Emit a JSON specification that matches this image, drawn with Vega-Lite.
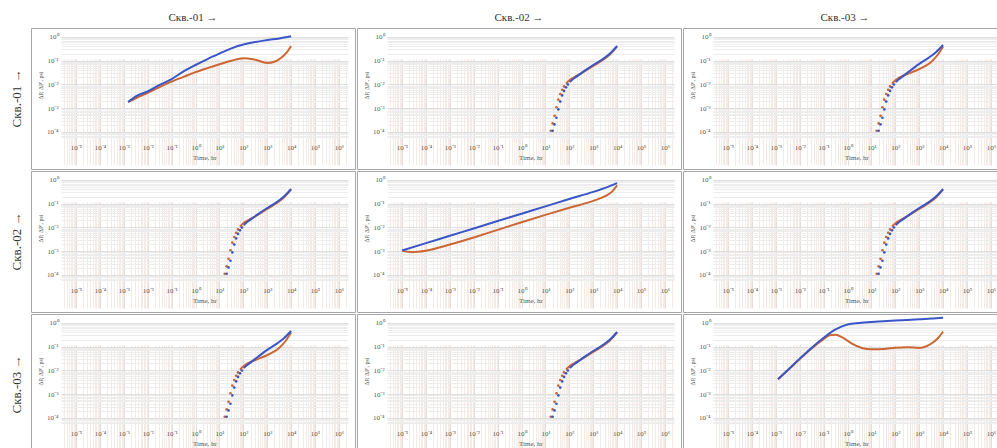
{
  "$schema": "https://vega.github.io/schema/vega-lite/v6.json",
  "padding": {"left": 10, "top": 12, "right": 0, "bottom": 0},
  "background": "white",
  "data": {"values": [
    {"r":"Скв.-01 →","c":"Скв.-01 →","s":"ΔP'","t":0.001514,"v":0.00182},
    {"r":"Скв.-01 →","c":"Скв.-01 →","s":"ΔP'","t":0.003162,"v":0.00263},
    {"r":"Скв.-01 →","c":"Скв.-01 →","s":"ΔP'","t":0.01,"v":0.004467},
    {"r":"Скв.-01 →","c":"Скв.-01 →","s":"ΔP'","t":0.03162,"v":0.007762},
    {"r":"Скв.-01 →","c":"Скв.-01 →","s":"ΔP'","t":0.1,"v":0.01318},
    {"r":"Скв.-01 →","c":"Скв.-01 →","s":"ΔP'","t":0.3162,"v":0.02089},
    {"r":"Скв.-01 →","c":"Скв.-01 →","s":"ΔP'","t":1,"v":0.03311},
    {"r":"Скв.-01 →","c":"Скв.-01 →","s":"ΔP'","t":3.162,"v":0.04898},
    {"r":"Скв.-01 →","c":"Скв.-01 →","s":"ΔP'","t":10,"v":0.07079},
    {"r":"Скв.-01 →","c":"Скв.-01 →","s":"ΔP'","t":31.62,"v":0.1},
    {"r":"Скв.-01 →","c":"Скв.-01 →","s":"ΔP'","t":100,"v":0.1288},
    {"r":"Скв.-01 →","c":"Скв.-01 →","s":"ΔP'","t":316.2,"v":0.1096},
    {"r":"Скв.-01 →","c":"Скв.-01 →","s":"ΔP'","t":1000,"v":0.08128},
    {"r":"Скв.-01 →","c":"Скв.-01 →","s":"ΔP'","t":1995,"v":0.0912},
    {"r":"Скв.-01 →","c":"Скв.-01 →","s":"ΔP'","t":3981,"v":0.138},
    {"r":"Скв.-01 →","c":"Скв.-01 →","s":"ΔP'","t":6310,"v":0.2138},
    {"r":"Скв.-01 →","c":"Скв.-01 →","s":"ΔP'","t":10000,"v":0.4169},

    {"r":"Скв.-01 →","c":"Скв.-02 →","s":"ΔP'","t":16.6,"v":0.0001122},
    {"r":"Скв.-01 →","c":"Скв.-02 →","s":"ΔP'","t":19.95,"v":0.0002291},
    {"r":"Скв.-01 →","c":"Скв.-02 →","s":"ΔP'","t":23.99,"v":0.0004786},
    {"r":"Скв.-01 →","c":"Скв.-02 →","s":"ΔP'","t":28.84,"v":0.001096},
    {"r":"Скв.-01 →","c":"Скв.-02 →","s":"ΔP'","t":34.67,"v":0.002291},
    {"r":"Скв.-01 →","c":"Скв.-02 →","s":"ΔP'","t":41.69,"v":0.003981},
    {"r":"Скв.-01 →","c":"Скв.-02 →","s":"ΔP'","t":50.12,"v":0.006026},
    {"r":"Скв.-01 →","c":"Скв.-02 →","s":"ΔP'","t":60.26,"v":0.008318},
    {"r":"Скв.-01 →","c":"Скв.-02 →","s":"ΔP'","t":72.44,"v":0.01072},
    {"r":"Скв.-01 →","c":"Скв.-02 →","s":"ΔP'","t":87.1,"v":0.01318},
    {"r":"Скв.-01 →","c":"Скв.-02 →","s":"ΔP'","t":104.7,"v":0.01549},
    {"r":"Скв.-01 →","c":"Скв.-02 →","s":"ΔP'","t":125.9,"v":0.01778},
    {"r":"Скв.-01 →","c":"Скв.-02 →","s":"ΔP'","t":199.5,"v":0.02291},
    {"r":"Скв.-01 →","c":"Скв.-02 →","s":"ΔP'","t":398.1,"v":0.03388},
    {"r":"Скв.-01 →","c":"Скв.-02 →","s":"ΔP'","t":1000,"v":0.06026},
    {"r":"Скв.-01 →","c":"Скв.-02 →","s":"ΔP'","t":2512,"v":0.1072},
    {"r":"Скв.-01 →","c":"Скв.-02 →","s":"ΔP'","t":5012,"v":0.182},
    {"r":"Скв.-01 →","c":"Скв.-02 →","s":"ΔP'","t":10000,"v":0.3981},

    {"r":"Скв.-01 →","c":"Скв.-03 →","s":"ΔP'","t":16.6,"v":0.0001122},
    {"r":"Скв.-01 →","c":"Скв.-03 →","s":"ΔP'","t":19.95,"v":0.0002291},
    {"r":"Скв.-01 →","c":"Скв.-03 →","s":"ΔP'","t":23.99,"v":0.0004786},
    {"r":"Скв.-01 →","c":"Скв.-03 →","s":"ΔP'","t":28.84,"v":0.001096},
    {"r":"Скв.-01 →","c":"Скв.-03 →","s":"ΔP'","t":34.67,"v":0.002291},
    {"r":"Скв.-01 →","c":"Скв.-03 →","s":"ΔP'","t":41.69,"v":0.003981},
    {"r":"Скв.-01 →","c":"Скв.-03 →","s":"ΔP'","t":50.12,"v":0.006026},
    {"r":"Скв.-01 →","c":"Скв.-03 →","s":"ΔP'","t":60.26,"v":0.008318},
    {"r":"Скв.-01 →","c":"Скв.-03 →","s":"ΔP'","t":72.44,"v":0.01072},
    {"r":"Скв.-01 →","c":"Скв.-03 →","s":"ΔP'","t":87.1,"v":0.01318},
    {"r":"Скв.-01 →","c":"Скв.-03 →","s":"ΔP'","t":104.7,"v":0.01549},
    {"r":"Скв.-01 →","c":"Скв.-03 →","s":"ΔP'","t":125.9,"v":0.01778},
    {"r":"Скв.-01 →","c":"Скв.-03 →","s":"ΔP'","t":199.5,"v":0.02291},
    {"r":"Скв.-01 →","c":"Скв.-03 →","s":"ΔP'","t":398.1,"v":0.0302},
    {"r":"Скв.-01 →","c":"Скв.-03 →","s":"ΔP'","t":794.3,"v":0.03981},
    {"r":"Скв.-01 →","c":"Скв.-03 →","s":"ΔP'","t":1585,"v":0.05623},
    {"r":"Скв.-01 →","c":"Скв.-03 →","s":"ΔP'","t":3162,"v":0.08913},
    {"r":"Скв.-01 →","c":"Скв.-03 →","s":"ΔP'","t":5623,"v":0.166},
    {"r":"Скв.-01 →","c":"Скв.-03 →","s":"ΔP'","t":10000,"v":0.3981},

    {"r":"Скв.-02 →","c":"Скв.-01 →","s":"ΔP'","t":16.6,"v":0.0001122},
    {"r":"Скв.-02 →","c":"Скв.-01 →","s":"ΔP'","t":19.95,"v":0.0002291},
    {"r":"Скв.-02 →","c":"Скв.-01 →","s":"ΔP'","t":23.99,"v":0.0004786},
    {"r":"Скв.-02 →","c":"Скв.-01 →","s":"ΔP'","t":28.84,"v":0.001096},
    {"r":"Скв.-02 →","c":"Скв.-01 →","s":"ΔP'","t":34.67,"v":0.002291},
    {"r":"Скв.-02 →","c":"Скв.-01 →","s":"ΔP'","t":41.69,"v":0.003981},
    {"r":"Скв.-02 →","c":"Скв.-01 →","s":"ΔP'","t":50.12,"v":0.006026},
    {"r":"Скв.-02 →","c":"Скв.-01 →","s":"ΔP'","t":60.26,"v":0.008318},
    {"r":"Скв.-02 →","c":"Скв.-01 →","s":"ΔP'","t":72.44,"v":0.01072},
    {"r":"Скв.-02 →","c":"Скв.-01 →","s":"ΔP'","t":87.1,"v":0.01318},
    {"r":"Скв.-02 →","c":"Скв.-01 →","s":"ΔP'","t":104.7,"v":0.01549},
    {"r":"Скв.-02 →","c":"Скв.-01 →","s":"ΔP'","t":125.9,"v":0.01778},
    {"r":"Скв.-02 →","c":"Скв.-01 →","s":"ΔP'","t":199.5,"v":0.02291},
    {"r":"Скв.-02 →","c":"Скв.-01 →","s":"ΔP'","t":398.1,"v":0.03388},
    {"r":"Скв.-02 →","c":"Скв.-01 →","s":"ΔP'","t":1000,"v":0.06026},
    {"r":"Скв.-02 →","c":"Скв.-01 →","s":"ΔP'","t":2512,"v":0.1072},
    {"r":"Скв.-02 →","c":"Скв.-01 →","s":"ΔP'","t":5012,"v":0.182},
    {"r":"Скв.-02 →","c":"Скв.-01 →","s":"ΔP'","t":10000,"v":0.3981},

    {"r":"Скв.-02 →","c":"Скв.-02 →","s":"ΔP'","t":0.00001,"v":0.001072},
    {"r":"Скв.-02 →","c":"Скв.-02 →","s":"ΔP'","t":0.00002512,"v":0.000912},
    {"r":"Скв.-02 →","c":"Скв.-02 →","s":"ΔP'","t":0.0001,"v":0.001047},
    {"r":"Скв.-02 →","c":"Скв.-02 →","s":"ΔP'","t":0.001,"v":0.001905},
    {"r":"Скв.-02 →","c":"Скв.-02 →","s":"ΔP'","t":0.01,"v":0.003802},
    {"r":"Скв.-02 →","c":"Скв.-02 →","s":"ΔP'","t":0.1,"v":0.007943},
    {"r":"Скв.-02 →","c":"Скв.-02 →","s":"ΔP'","t":1,"v":0.0166},
    {"r":"Скв.-02 →","c":"Скв.-02 →","s":"ΔP'","t":10,"v":0.03388},
    {"r":"Скв.-02 →","c":"Скв.-02 →","s":"ΔP'","t":100,"v":0.06761},
    {"r":"Скв.-02 →","c":"Скв.-02 →","s":"ΔP'","t":1000,"v":0.1318},
    {"r":"Скв.-02 →","c":"Скв.-02 →","s":"ΔP'","t":3162,"v":0.2089},
    {"r":"Скв.-02 →","c":"Скв.-02 →","s":"ΔP'","t":6310,"v":0.3311},
    {"r":"Скв.-02 →","c":"Скв.-02 →","s":"ΔP'","t":10000,"v":0.6026},

    {"r":"Скв.-02 →","c":"Скв.-03 →","s":"ΔP'","t":16.6,"v":0.0001122},
    {"r":"Скв.-02 →","c":"Скв.-03 →","s":"ΔP'","t":19.95,"v":0.0002291},
    {"r":"Скв.-02 →","c":"Скв.-03 →","s":"ΔP'","t":23.99,"v":0.0004786},
    {"r":"Скв.-02 →","c":"Скв.-03 →","s":"ΔP'","t":28.84,"v":0.001096},
    {"r":"Скв.-02 →","c":"Скв.-03 →","s":"ΔP'","t":34.67,"v":0.002291},
    {"r":"Скв.-02 →","c":"Скв.-03 →","s":"ΔP'","t":41.69,"v":0.003981},
    {"r":"Скв.-02 →","c":"Скв.-03 →","s":"ΔP'","t":50.12,"v":0.006026},
    {"r":"Скв.-02 →","c":"Скв.-03 →","s":"ΔP'","t":60.26,"v":0.008318},
    {"r":"Скв.-02 →","c":"Скв.-03 →","s":"ΔP'","t":72.44,"v":0.01072},
    {"r":"Скв.-02 →","c":"Скв.-03 →","s":"ΔP'","t":87.1,"v":0.01318},
    {"r":"Скв.-02 →","c":"Скв.-03 →","s":"ΔP'","t":104.7,"v":0.01549},
    {"r":"Скв.-02 →","c":"Скв.-03 →","s":"ΔP'","t":125.9,"v":0.01778},
    {"r":"Скв.-02 →","c":"Скв.-03 →","s":"ΔP'","t":199.5,"v":0.02291},
    {"r":"Скв.-02 →","c":"Скв.-03 →","s":"ΔP'","t":398.1,"v":0.03388},
    {"r":"Скв.-02 →","c":"Скв.-03 →","s":"ΔP'","t":1000,"v":0.06026},
    {"r":"Скв.-02 →","c":"Скв.-03 →","s":"ΔP'","t":2512,"v":0.1072},
    {"r":"Скв.-02 →","c":"Скв.-03 →","s":"ΔP'","t":5012,"v":0.182},
    {"r":"Скв.-02 →","c":"Скв.-03 →","s":"ΔP'","t":10000,"v":0.3981},

    {"r":"Скв.-03 →","c":"Скв.-01 →","s":"ΔP'","t":16.6,"v":0.0001122},
    {"r":"Скв.-03 →","c":"Скв.-01 →","s":"ΔP'","t":19.95,"v":0.0002291},
    {"r":"Скв.-03 →","c":"Скв.-01 →","s":"ΔP'","t":23.99,"v":0.0004786},
    {"r":"Скв.-03 →","c":"Скв.-01 →","s":"ΔP'","t":28.84,"v":0.001096},
    {"r":"Скв.-03 →","c":"Скв.-01 →","s":"ΔP'","t":34.67,"v":0.002291},
    {"r":"Скв.-03 →","c":"Скв.-01 →","s":"ΔP'","t":41.69,"v":0.003981},
    {"r":"Скв.-03 →","c":"Скв.-01 →","s":"ΔP'","t":50.12,"v":0.006026},
    {"r":"Скв.-03 →","c":"Скв.-01 →","s":"ΔP'","t":60.26,"v":0.008318},
    {"r":"Скв.-03 →","c":"Скв.-01 →","s":"ΔP'","t":72.44,"v":0.01072},
    {"r":"Скв.-03 →","c":"Скв.-01 →","s":"ΔP'","t":87.1,"v":0.01318},
    {"r":"Скв.-03 →","c":"Скв.-01 →","s":"ΔP'","t":104.7,"v":0.01549},
    {"r":"Скв.-03 →","c":"Скв.-01 →","s":"ΔP'","t":125.9,"v":0.01778},
    {"r":"Скв.-03 →","c":"Скв.-01 →","s":"ΔP'","t":199.5,"v":0.02291},
    {"r":"Скв.-03 →","c":"Скв.-01 →","s":"ΔP'","t":398.1,"v":0.0302},
    {"r":"Скв.-03 →","c":"Скв.-01 →","s":"ΔP'","t":794.3,"v":0.03981},
    {"r":"Скв.-03 →","c":"Скв.-01 →","s":"ΔP'","t":1585,"v":0.05623},
    {"r":"Скв.-03 →","c":"Скв.-01 →","s":"ΔP'","t":3162,"v":0.08913},
    {"r":"Скв.-03 →","c":"Скв.-01 →","s":"ΔP'","t":5623,"v":0.166},
    {"r":"Скв.-03 →","c":"Скв.-01 →","s":"ΔP'","t":10000,"v":0.3981},

    {"r":"Скв.-03 →","c":"Скв.-02 →","s":"ΔP'","t":16.6,"v":0.0001122},
    {"r":"Скв.-03 →","c":"Скв.-02 →","s":"ΔP'","t":19.95,"v":0.0002291},
    {"r":"Скв.-03 →","c":"Скв.-02 →","s":"ΔP'","t":23.99,"v":0.0004786},
    {"r":"Скв.-03 →","c":"Скв.-02 →","s":"ΔP'","t":28.84,"v":0.001096},
    {"r":"Скв.-03 →","c":"Скв.-02 →","s":"ΔP'","t":34.67,"v":0.002291},
    {"r":"Скв.-03 →","c":"Скв.-02 →","s":"ΔP'","t":41.69,"v":0.003981},
    {"r":"Скв.-03 →","c":"Скв.-02 →","s":"ΔP'","t":50.12,"v":0.006026},
    {"r":"Скв.-03 →","c":"Скв.-02 →","s":"ΔP'","t":60.26,"v":0.008318},
    {"r":"Скв.-03 →","c":"Скв.-02 →","s":"ΔP'","t":72.44,"v":0.01072},
    {"r":"Скв.-03 →","c":"Скв.-02 →","s":"ΔP'","t":87.1,"v":0.01318},
    {"r":"Скв.-03 →","c":"Скв.-02 →","s":"ΔP'","t":104.7,"v":0.01549},
    {"r":"Скв.-03 →","c":"Скв.-02 →","s":"ΔP'","t":125.9,"v":0.01778},
    {"r":"Скв.-03 →","c":"Скв.-02 →","s":"ΔP'","t":199.5,"v":0.02291},
    {"r":"Скв.-03 →","c":"Скв.-02 →","s":"ΔP'","t":398.1,"v":0.03388},
    {"r":"Скв.-03 →","c":"Скв.-02 →","s":"ΔP'","t":1000,"v":0.06026},
    {"r":"Скв.-03 →","c":"Скв.-02 →","s":"ΔP'","t":2512,"v":0.1072},
    {"r":"Скв.-03 →","c":"Скв.-02 →","s":"ΔP'","t":5012,"v":0.182},
    {"r":"Скв.-03 →","c":"Скв.-02 →","s":"ΔP'","t":10000,"v":0.3981},

    {"r":"Скв.-03 →","c":"Скв.-03 →","s":"ΔP'","t":0.00123,"v":0.004266},
    {"r":"Скв.-03 →","c":"Скв.-03 →","s":"ΔP'","t":0.003162,"v":0.01023},
    {"r":"Скв.-03 →","c":"Скв.-03 →","s":"ΔP'","t":0.01,"v":0.0302},
    {"r":"Скв.-03 →","c":"Скв.-03 →","s":"ΔP'","t":0.03162,"v":0.08511},
    {"r":"Скв.-03 →","c":"Скв.-03 →","s":"ΔP'","t":0.1,"v":0.2089},
    {"r":"Скв.-03 →","c":"Скв.-03 →","s":"ΔP'","t":0.1778,"v":0.302},
    {"r":"Скв.-03 →","c":"Скв.-03 →","s":"ΔP'","t":0.3162,"v":0.3162},
    {"r":"Скв.-03 →","c":"Скв.-03 →","s":"ΔP'","t":0.631,"v":0.2399},
    {"r":"Скв.-03 →","c":"Скв.-03 →","s":"ΔP'","t":1.585,"v":0.1318},
    {"r":"Скв.-03 →","c":"Скв.-03 →","s":"ΔP'","t":3.981,"v":0.08913},
    {"r":"Скв.-03 →","c":"Скв.-03 →","s":"ΔP'","t":10,"v":0.07762},
    {"r":"Скв.-03 →","c":"Скв.-03 →","s":"ΔP'","t":31.62,"v":0.07943},
    {"r":"Скв.-03 →","c":"Скв.-03 →","s":"ΔP'","t":100,"v":0.0912},
    {"r":"Скв.-03 →","c":"Скв.-03 →","s":"ΔP'","t":316.2,"v":0.0955},
    {"r":"Скв.-03 →","c":"Скв.-03 →","s":"ΔP'","t":1000,"v":0.08913},
    {"r":"Скв.-03 →","c":"Скв.-03 →","s":"ΔP'","t":1995,"v":0.1047},
    {"r":"Скв.-03 →","c":"Скв.-03 →","s":"ΔP'","t":3981,"v":0.1585},
    {"r":"Скв.-03 →","c":"Скв.-03 →","s":"ΔP'","t":6310,"v":0.2399},
    {"r":"Скв.-03 →","c":"Скв.-03 →","s":"ΔP'","t":10000,"v":0.4365},

    {"r":"Скв.-01 →","c":"Скв.-01 →","s":"ΔP","t":0.001514,"v":0.00182},
    {"r":"Скв.-01 →","c":"Скв.-01 →","s":"ΔP","t":0.003162,"v":0.003162},
    {"r":"Скв.-01 →","c":"Скв.-01 →","s":"ΔP","t":0.01,"v":0.005129},
    {"r":"Скв.-01 →","c":"Скв.-01 →","s":"ΔP","t":0.03162,"v":0.00955},
    {"r":"Скв.-01 →","c":"Скв.-01 →","s":"ΔP","t":0.1,"v":0.01698},
    {"r":"Скв.-01 →","c":"Скв.-01 →","s":"ΔP","t":0.3162,"v":0.03548},
    {"r":"Скв.-01 →","c":"Скв.-01 →","s":"ΔP","t":1,"v":0.06607},
    {"r":"Скв.-01 →","c":"Скв.-01 →","s":"ΔP","t":3.162,"v":0.1175},
    {"r":"Скв.-01 →","c":"Скв.-01 →","s":"ΔP","t":10,"v":0.1995},
    {"r":"Скв.-01 →","c":"Скв.-01 →","s":"ΔP","t":31.62,"v":0.3311},
    {"r":"Скв.-01 →","c":"Скв.-01 →","s":"ΔP","t":100,"v":0.4786},
    {"r":"Скв.-01 →","c":"Скв.-01 →","s":"ΔP","t":316.2,"v":0.6166},
    {"r":"Скв.-01 →","c":"Скв.-01 →","s":"ΔP","t":1000,"v":0.7413},
    {"r":"Скв.-01 →","c":"Скв.-01 →","s":"ΔP","t":3162,"v":0.871},
    {"r":"Скв.-01 →","c":"Скв.-01 →","s":"ΔP","t":10000,"v":1.072},

    {"r":"Скв.-01 →","c":"Скв.-02 →","s":"ΔP","t":19.95,"v":0.0001122},
    {"r":"Скв.-01 →","c":"Скв.-02 →","s":"ΔP","t":23.99,"v":0.0002089},
    {"r":"Скв.-01 →","c":"Скв.-02 →","s":"ΔP","t":28.84,"v":0.0003981},
    {"r":"Скв.-01 →","c":"Скв.-02 →","s":"ΔP","t":34.67,"v":0.0008913},
    {"r":"Скв.-01 →","c":"Скв.-02 →","s":"ΔP","t":41.69,"v":0.001905},
    {"r":"Скв.-01 →","c":"Скв.-02 →","s":"ΔP","t":50.12,"v":0.003467},
    {"r":"Скв.-01 →","c":"Скв.-02 →","s":"ΔP","t":60.26,"v":0.00537},
    {"r":"Скв.-01 →","c":"Скв.-02 →","s":"ΔP","t":72.44,"v":0.007586},
    {"r":"Скв.-01 →","c":"Скв.-02 →","s":"ΔP","t":87.1,"v":0.01},
    {"r":"Скв.-01 →","c":"Скв.-02 →","s":"ΔP","t":104.7,"v":0.01259},
    {"r":"Скв.-01 →","c":"Скв.-02 →","s":"ΔP","t":125.9,"v":0.01514},
    {"r":"Скв.-01 →","c":"Скв.-02 →","s":"ΔP","t":199.5,"v":0.02138},
    {"r":"Скв.-01 →","c":"Скв.-02 →","s":"ΔP","t":398.1,"v":0.03548},
    {"r":"Скв.-01 →","c":"Скв.-02 →","s":"ΔP","t":1000,"v":0.06607},
    {"r":"Скв.-01 →","c":"Скв.-02 →","s":"ΔP","t":2512,"v":0.1175},
    {"r":"Скв.-01 →","c":"Скв.-02 →","s":"ΔP","t":5012,"v":0.1995},
    {"r":"Скв.-01 →","c":"Скв.-02 →","s":"ΔP","t":10000,"v":0.4169},

    {"r":"Скв.-01 →","c":"Скв.-03 →","s":"ΔP","t":19.95,"v":0.0001122},
    {"r":"Скв.-01 →","c":"Скв.-03 →","s":"ΔP","t":23.99,"v":0.0002089},
    {"r":"Скв.-01 →","c":"Скв.-03 →","s":"ΔP","t":28.84,"v":0.0003981},
    {"r":"Скв.-01 →","c":"Скв.-03 →","s":"ΔP","t":34.67,"v":0.0008913},
    {"r":"Скв.-01 →","c":"Скв.-03 →","s":"ΔP","t":41.69,"v":0.001905},
    {"r":"Скв.-01 →","c":"Скв.-03 →","s":"ΔP","t":50.12,"v":0.003467},
    {"r":"Скв.-01 →","c":"Скв.-03 →","s":"ΔP","t":60.26,"v":0.00537},
    {"r":"Скв.-01 →","c":"Скв.-03 →","s":"ΔP","t":72.44,"v":0.007586},
    {"r":"Скв.-01 →","c":"Скв.-03 →","s":"ΔP","t":87.1,"v":0.01},
    {"r":"Скв.-01 →","c":"Скв.-03 →","s":"ΔP","t":104.7,"v":0.01259},
    {"r":"Скв.-01 →","c":"Скв.-03 →","s":"ΔP","t":125.9,"v":0.01514},
    {"r":"Скв.-01 →","c":"Скв.-03 →","s":"ΔP","t":199.5,"v":0.02138},
    {"r":"Скв.-01 →","c":"Скв.-03 →","s":"ΔP","t":398.1,"v":0.03715},
    {"r":"Скв.-01 →","c":"Скв.-03 →","s":"ΔP","t":1000,"v":0.07413},
    {"r":"Скв.-01 →","c":"Скв.-03 →","s":"ΔP","t":2512,"v":0.1349},
    {"r":"Скв.-01 →","c":"Скв.-03 →","s":"ΔP","t":5012,"v":0.2291},
    {"r":"Скв.-01 →","c":"Скв.-03 →","s":"ΔP","t":10000,"v":0.4571},

    {"r":"Скв.-02 →","c":"Скв.-01 →","s":"ΔP","t":19.95,"v":0.0001122},
    {"r":"Скв.-02 →","c":"Скв.-01 →","s":"ΔP","t":23.99,"v":0.0002089},
    {"r":"Скв.-02 →","c":"Скв.-01 →","s":"ΔP","t":28.84,"v":0.0003981},
    {"r":"Скв.-02 →","c":"Скв.-01 →","s":"ΔP","t":34.67,"v":0.0008913},
    {"r":"Скв.-02 →","c":"Скв.-01 →","s":"ΔP","t":41.69,"v":0.001905},
    {"r":"Скв.-02 →","c":"Скв.-01 →","s":"ΔP","t":50.12,"v":0.003467},
    {"r":"Скв.-02 →","c":"Скв.-01 →","s":"ΔP","t":60.26,"v":0.00537},
    {"r":"Скв.-02 →","c":"Скв.-01 →","s":"ΔP","t":72.44,"v":0.007586},
    {"r":"Скв.-02 →","c":"Скв.-01 →","s":"ΔP","t":87.1,"v":0.01},
    {"r":"Скв.-02 →","c":"Скв.-01 →","s":"ΔP","t":104.7,"v":0.01259},
    {"r":"Скв.-02 →","c":"Скв.-01 →","s":"ΔP","t":125.9,"v":0.01514},
    {"r":"Скв.-02 →","c":"Скв.-01 →","s":"ΔP","t":199.5,"v":0.02138},
    {"r":"Скв.-02 →","c":"Скв.-01 →","s":"ΔP","t":398.1,"v":0.03548},
    {"r":"Скв.-02 →","c":"Скв.-01 →","s":"ΔP","t":1000,"v":0.06607},
    {"r":"Скв.-02 →","c":"Скв.-01 →","s":"ΔP","t":2512,"v":0.1175},
    {"r":"Скв.-02 →","c":"Скв.-01 →","s":"ΔP","t":5012,"v":0.1995},
    {"r":"Скв.-02 →","c":"Скв.-01 →","s":"ΔP","t":10000,"v":0.4169},

    {"r":"Скв.-02 →","c":"Скв.-02 →","s":"ΔP","t":0.00001,"v":0.001072},
    {"r":"Скв.-02 →","c":"Скв.-02 →","s":"ΔP","t":0.0001,"v":0.002188},
    {"r":"Скв.-02 →","c":"Скв.-02 →","s":"ΔP","t":0.001,"v":0.004467},
    {"r":"Скв.-02 →","c":"Скв.-02 →","s":"ΔP","t":0.01,"v":0.00912},
    {"r":"Скв.-02 →","c":"Скв.-02 →","s":"ΔP","t":0.1,"v":0.01862},
    {"r":"Скв.-02 →","c":"Скв.-02 →","s":"ΔP","t":1,"v":0.03802},
    {"r":"Скв.-02 →","c":"Скв.-02 →","s":"ΔP","t":10,"v":0.07762},
    {"r":"Скв.-02 →","c":"Скв.-02 →","s":"ΔP","t":100,"v":0.1585},
    {"r":"Скв.-02 →","c":"Скв.-02 →","s":"ΔP","t":1000,"v":0.3162},
    {"r":"Скв.-02 →","c":"Скв.-02 →","s":"ΔP","t":3162,"v":0.4677},
    {"r":"Скв.-02 →","c":"Скв.-02 →","s":"ΔP","t":10000,"v":0.7413},

    {"r":"Скв.-02 →","c":"Скв.-03 →","s":"ΔP","t":19.95,"v":0.0001122},
    {"r":"Скв.-02 →","c":"Скв.-03 →","s":"ΔP","t":23.99,"v":0.0002089},
    {"r":"Скв.-02 →","c":"Скв.-03 →","s":"ΔP","t":28.84,"v":0.0003981},
    {"r":"Скв.-02 →","c":"Скв.-03 →","s":"ΔP","t":34.67,"v":0.0008913},
    {"r":"Скв.-02 →","c":"Скв.-03 →","s":"ΔP","t":41.69,"v":0.001905},
    {"r":"Скв.-02 →","c":"Скв.-03 →","s":"ΔP","t":50.12,"v":0.003467},
    {"r":"Скв.-02 →","c":"Скв.-03 →","s":"ΔP","t":60.26,"v":0.00537},
    {"r":"Скв.-02 →","c":"Скв.-03 →","s":"ΔP","t":72.44,"v":0.007586},
    {"r":"Скв.-02 →","c":"Скв.-03 →","s":"ΔP","t":87.1,"v":0.01},
    {"r":"Скв.-02 →","c":"Скв.-03 →","s":"ΔP","t":104.7,"v":0.01259},
    {"r":"Скв.-02 →","c":"Скв.-03 →","s":"ΔP","t":125.9,"v":0.01514},
    {"r":"Скв.-02 →","c":"Скв.-03 →","s":"ΔP","t":199.5,"v":0.02138},
    {"r":"Скв.-02 →","c":"Скв.-03 →","s":"ΔP","t":398.1,"v":0.03548},
    {"r":"Скв.-02 →","c":"Скв.-03 →","s":"ΔP","t":1000,"v":0.06607},
    {"r":"Скв.-02 →","c":"Скв.-03 →","s":"ΔP","t":2512,"v":0.1175},
    {"r":"Скв.-02 →","c":"Скв.-03 →","s":"ΔP","t":5012,"v":0.1995},
    {"r":"Скв.-02 →","c":"Скв.-03 →","s":"ΔP","t":10000,"v":0.4169},

    {"r":"Скв.-03 →","c":"Скв.-01 →","s":"ΔP","t":19.95,"v":0.0001122},
    {"r":"Скв.-03 →","c":"Скв.-01 →","s":"ΔP","t":23.99,"v":0.0002089},
    {"r":"Скв.-03 →","c":"Скв.-01 →","s":"ΔP","t":28.84,"v":0.0003981},
    {"r":"Скв.-03 →","c":"Скв.-01 →","s":"ΔP","t":34.67,"v":0.0008913},
    {"r":"Скв.-03 →","c":"Скв.-01 →","s":"ΔP","t":41.69,"v":0.001905},
    {"r":"Скв.-03 →","c":"Скв.-01 →","s":"ΔP","t":50.12,"v":0.003467},
    {"r":"Скв.-03 →","c":"Скв.-01 →","s":"ΔP","t":60.26,"v":0.00537},
    {"r":"Скв.-03 →","c":"Скв.-01 →","s":"ΔP","t":72.44,"v":0.007586},
    {"r":"Скв.-03 →","c":"Скв.-01 →","s":"ΔP","t":87.1,"v":0.01},
    {"r":"Скв.-03 →","c":"Скв.-01 →","s":"ΔP","t":104.7,"v":0.01259},
    {"r":"Скв.-03 →","c":"Скв.-01 →","s":"ΔP","t":125.9,"v":0.01514},
    {"r":"Скв.-03 →","c":"Скв.-01 →","s":"ΔP","t":199.5,"v":0.02138},
    {"r":"Скв.-03 →","c":"Скв.-01 →","s":"ΔP","t":398.1,"v":0.03715},
    {"r":"Скв.-03 →","c":"Скв.-01 →","s":"ΔP","t":1000,"v":0.07413},
    {"r":"Скв.-03 →","c":"Скв.-01 →","s":"ΔP","t":2512,"v":0.1349},
    {"r":"Скв.-03 →","c":"Скв.-01 →","s":"ΔP","t":5012,"v":0.2291},
    {"r":"Скв.-03 →","c":"Скв.-01 →","s":"ΔP","t":10000,"v":0.4571},

    {"r":"Скв.-03 →","c":"Скв.-02 →","s":"ΔP","t":19.95,"v":0.0001122},
    {"r":"Скв.-03 →","c":"Скв.-02 →","s":"ΔP","t":23.99,"v":0.0002089},
    {"r":"Скв.-03 →","c":"Скв.-02 →","s":"ΔP","t":28.84,"v":0.0003981},
    {"r":"Скв.-03 →","c":"Скв.-02 →","s":"ΔP","t":34.67,"v":0.0008913},
    {"r":"Скв.-03 →","c":"Скв.-02 →","s":"ΔP","t":41.69,"v":0.001905},
    {"r":"Скв.-03 →","c":"Скв.-02 →","s":"ΔP","t":50.12,"v":0.003467},
    {"r":"Скв.-03 →","c":"Скв.-02 →","s":"ΔP","t":60.26,"v":0.00537},
    {"r":"Скв.-03 →","c":"Скв.-02 →","s":"ΔP","t":72.44,"v":0.007586},
    {"r":"Скв.-03 →","c":"Скв.-02 →","s":"ΔP","t":87.1,"v":0.01},
    {"r":"Скв.-03 →","c":"Скв.-02 →","s":"ΔP","t":104.7,"v":0.01259},
    {"r":"Скв.-03 →","c":"Скв.-02 →","s":"ΔP","t":125.9,"v":0.01514},
    {"r":"Скв.-03 →","c":"Скв.-02 →","s":"ΔP","t":199.5,"v":0.02138},
    {"r":"Скв.-03 →","c":"Скв.-02 →","s":"ΔP","t":398.1,"v":0.03548},
    {"r":"Скв.-03 →","c":"Скв.-02 →","s":"ΔP","t":1000,"v":0.06607},
    {"r":"Скв.-03 →","c":"Скв.-02 →","s":"ΔP","t":2512,"v":0.1175},
    {"r":"Скв.-03 →","c":"Скв.-02 →","s":"ΔP","t":5012,"v":0.1995},
    {"r":"Скв.-03 →","c":"Скв.-02 →","s":"ΔP","t":10000,"v":0.4169},

    {"r":"Скв.-03 →","c":"Скв.-03 →","s":"ΔP","t":0.00123,"v":0.004266},
    {"r":"Скв.-03 →","c":"Скв.-03 →","s":"ΔP","t":0.003162,"v":0.01047},
    {"r":"Скв.-03 →","c":"Скв.-03 →","s":"ΔP","t":0.01,"v":0.03162},
    {"r":"Скв.-03 →","c":"Скв.-03 →","s":"ΔP","t":0.03162,"v":0.0912},
    {"r":"Скв.-03 →","c":"Скв.-03 →","s":"ΔP","t":0.1,"v":0.2399},
    {"r":"Скв.-03 →","c":"Скв.-03 →","s":"ΔP","t":0.3162,"v":0.537},
    {"r":"Скв.-03 →","c":"Скв.-03 →","s":"ΔP","t":1,"v":0.871},
    {"r":"Скв.-03 →","c":"Скв.-03 →","s":"ΔP","t":3.162,"v":1.0},
    {"r":"Скв.-03 →","c":"Скв.-03 →","s":"ΔP","t":10,"v":1.096},
    {"r":"Скв.-03 →","c":"Скв.-03 →","s":"ΔP","t":31.62,"v":1.175},
    {"r":"Скв.-03 →","c":"Скв.-03 →","s":"ΔP","t":100,"v":1.259},
    {"r":"Скв.-03 →","c":"Скв.-03 →","s":"ΔP","t":316.2,"v":1.349},
    {"r":"Скв.-03 →","c":"Скв.-03 →","s":"ΔP","t":1000,"v":1.445},
    {"r":"Скв.-03 →","c":"Скв.-03 →","s":"ΔP","t":3162,"v":1.531},
    {"r":"Скв.-03 →","c":"Скв.-03 →","s":"ΔP","t":10000,"v":1.66}
  ]},
  "facet": {
    "row": {"field": "r", "type": "nominal", "title": null,
      "header": {"labelAngle": -90, "labelFont": "Liberation Serif", "labelFontSize": 13, "labelColor": "#333333", "labelPadding": 0}},
    "column": {"field": "c", "type": "nominal", "title": null,
      "header": {"labelFont": "Liberation Serif", "labelFontSize": 11, "labelColor": "#333333", "labelPadding": 4}}
  },
  "spacing": 0,
  "resolve": {"axis": {"x": "independent", "y": "independent"}},
  "spec": {
    "width": 324,
    "height": 141,
    "transform": [
      {"window": [{"op": "lead", "field": "v", "as": "vn"}, {"op": "lead", "field": "t", "as": "tn"}],
       "groupby": ["r", "c", "s"], "sort": [{"field": "t", "order": "ascending"}]}
    ],
    "encoding": {
      "x": {"field": "t", "type": "quantitative",
        "scale": {"type": "log", "domain": [0.00000234, 2400000], "range": [30, 317], "nice": false},
        "axis": {
          "orient": "bottom", "offset": -31, "title": "Time, hr",
          "titleFont": "Liberation Serif", "titleFontSize": 7, "titleFontWeight": "normal", "titleColor": "#555555", "titlePadding": 3,
          "values": [3e-6,4e-6,5e-6,6e-6,7e-6,8e-6,9e-6,1e-5,2e-5,3e-5,4e-5,5e-5,6e-5,7e-5,8e-5,9e-5,1e-4,2e-4,3e-4,4e-4,5e-4,6e-4,7e-4,8e-4,9e-4,0.001,0.002,0.003,0.004,0.005,0.006,0.007,0.008,0.009,0.01,0.02,0.03,0.04,0.05,0.06,0.07,0.08,0.09,0.1,0.2,0.3,0.4,0.5,0.6,0.7,0.8,0.9,1,2,3,4,5,6,7,8,9,10,20,30,40,50,60,70,80,90,100,200,300,400,500,600,700,800,900,1000,2000,3000,4000,5000,6000,7000,8000,9000,10000,20000,30000,40000,50000,60000,70000,80000,90000,100000,200000,300000,400000,500000,600000,700000,800000,900000,1000000,2000000],
          "labelExpr": "abs(log(datum.value)/LN10 - round(log(datum.value)/LN10)) < 0.001 ? '10' + ['⁻⁵','⁻⁴','⁻³','⁻²','⁻¹','⁰','¹','²','³','⁴','⁵','⁶'][round(log(datum.value)/LN10) + 5] : ''",
          "labelFont": "Liberation Serif", "labelFontSize": 7, "labelColor": "#555555", "labelPadding": 5,
          "labelOverlap": false, "labelFlush": false,
          "ticks": false, "domain": false, "grid": true,
          "gridColor": {"condition": {"test": "abs(log(datum.value)/LN10 - round(log(datum.value)/LN10)) < 0.001", "value": "#e6dcd8"}, "value": "#f4ebe7"},
          "gridWidth": 1
        }},
      "y": {"field": "v", "type": "quantitative",
        "scale": {"type": "log", "domain": [0.0000558, 1.622], "range": [110, 4], "nice": false},
        "axis": {
          "orient": "left", "offset": -30, "title": "ΔP, ΔP', psi",
          "titleFont": "Liberation Serif", "titleFontSize": 6, "titleFontWeight": "normal", "titleColor": "#555555", "titlePadding": 3,
          "values": [6e-5,7e-5,8e-5,9e-5,1e-4,2e-4,3e-4,4e-4,5e-4,6e-4,7e-4,8e-4,9e-4,0.001,0.002,0.003,0.004,0.005,0.006,0.007,0.008,0.009,0.01,0.02,0.03,0.04,0.05,0.06,0.07,0.08,0.09,0.1,0.2,0.3,0.4,0.5,0.6,0.7,0.8,0.9,1],
          "labelExpr": "abs(log(datum.value)/LN10 - round(log(datum.value)/LN10)) < 0.001 ? '10' + ['⁻⁵','⁻⁴','⁻³','⁻²','⁻¹','⁰','¹','²','³','⁴','⁵','⁶'][round(log(datum.value)/LN10) + 5] : ''",
          "labelFont": "Liberation Serif", "labelFontSize": 7, "labelColor": "#555555", "labelPadding": 3,
          "labelOverlap": false, "labelFlush": false,
          "ticks": false, "domain": false, "grid": true,
          "gridColor": {"condition": {"test": "abs(log(datum.value)/LN10 - round(log(datum.value)/LN10)) < 0.001", "value": "#dedede"}, "value": "#ededed"},
          "gridWidth": 1
        }},
      "color": {"field": "s", "type": "nominal",
        "scale": {"domain": ["ΔP", "ΔP'"], "range": ["#3a55c8", "#cc6633"]}, "legend": null}
    },
    "layer": [
      {"transform": [{"filter": "!(isValid(datum.vn) && datum.t < 300 && log(datum.vn/datum.v)/log(datum.tn/datum.t) >= 1.15)"}],
       "mark": {"type": "line", "strokeWidth": 2, "interpolate": "monotone"}},
      {"transform": [{"filter": "isValid(datum.vn) && datum.t < 300 && log(datum.vn/datum.v)/log(datum.tn/datum.t) >= 1.15"}],
       "mark": {"type": "point", "filled": true, "size": 7, "opacity": 1}}
    ]
  },
  "config": {
    "view": {"stroke": "#a6a6a6", "strokeWidth": 1},
    "font": "Liberation Serif"
  }
}
